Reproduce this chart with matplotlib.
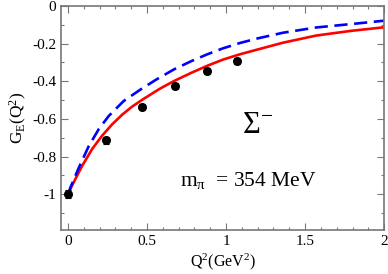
import matplotlib
matplotlib.use('Agg')
import matplotlib.pyplot as plt

# lattice points
q2_pts = [0.0, 0.24, 0.465, 0.675, 0.88, 1.07]
ge_pts = [-1.0, -0.713, -0.537, -0.426, -0.346, -0.293]
ge_err = [0.02, 0.018, 0.017, 0.016, 0.015, 0.015]

# red solid curve
q2_red = [0.0, 0.025, 0.089, 0.152, 0.215, 0.278, 0.342, 0.405, 0.47, 0.58, 0.67, 0.78,
          0.88, 0.98, 1.09, 1.2, 1.36, 1.57, 1.79, 2.0]
ge_red = [-1.0, -0.955, -0.85, -0.761, -0.69, -0.63, -0.578, -0.535, -0.498, -0.44, -0.399, -0.355,
          -0.318, -0.285, -0.256, -0.231, -0.195, -0.157, -0.132, -0.113]

# blue dashed curve
q2_blue = [0.0, 0.015, 0.068, 0.131, 0.194, 0.257, 0.352, 0.46, 0.56, 0.67, 0.78, 0.88,
           0.98, 1.09, 1.2, 1.36, 1.57, 1.79, 2.0]
ge_blue = [-1.0, -0.965, -0.86, -0.745, -0.655, -0.585, -0.505, -0.443, -0.39, -0.337, -0.293, -0.257,
           -0.225, -0.196, -0.172, -0.142, -0.114, -0.096, -0.078]

plt.rcParams['font.family'] = ['Liberation Serif', 'DejaVu Serif']
plt.rcParams['mathtext.fontset'] = 'custom'
plt.rcParams['mathtext.rm'] = 'Liberation Serif'
plt.rcParams['mathtext.it'] = 'Liberation Serif:italic'
plt.rcParams['mathtext.default'] = 'rm'

fig = plt.figure(figsize=(3.88, 2.74), dpi=100)
ax = fig.add_axes([0.157, 0.161, 0.833, 0.817])

ax.plot(q2_red, ge_red, color='red', lw=1.9, solid_joinstyle='round')
ax.plot(q2_blue, ge_blue, color='blue', lw=1.9, dashes=(5, 2.5))
ax.errorbar(q2_pts, ge_pts, yerr=ge_err, fmt='o', color='black', ms=5.5,
            elinewidth=0.8, capsize=2, capthick=0.8, zorder=5)

ax.set_xlim(-0.045, 2.0)
ax.set_ylim(-1.19, 0.0)
ax.set_xticks([0, 0.5, 1, 1.5, 2])
ax.set_xticklabels(['0', '0.5', '1', '1.5', '2'])
ax.set_yticks([-1, -0.8, -0.6, -0.4, -0.2, 0])
ax.set_yticklabels(['-1', '-0.8', '-0.6', '-0.4', '-0.2', '0'])
ax.set_xticks([i * 0.1 for i in range(21)], minor=True)
ax.set_yticks([-0.1 * i for i in range(12)], minor=True)
ax.tick_params(which='both', direction='in', top=True, right=True, color='#777777', labelsize=11)
ax.tick_params(which='major', length=5, width=0.8)
ax.tick_params(which='minor', length=2.5, width=0.8)
for s in ax.spines.values():
    s.set_color('#777777')
    s.set_linewidth(1.2)

ax.set_xlabel(r'Q$^2$(GeV$^2$)', fontsize=11.5, labelpad=3)
ax.set_ylabel(r'G$_\mathrm{E}$(Q$^2$)', fontsize=12.5, labelpad=2)

ax.text(1.2, -0.675, r'$\Sigma^{-}$', fontsize=22, ha='center', va='baseline')
ax.text(0.71, -0.957, r'm$_\pi$  = 354 MeV', fontsize=15.5, ha='left', va='baseline')

fig.savefig('out.png', dpi=100)
